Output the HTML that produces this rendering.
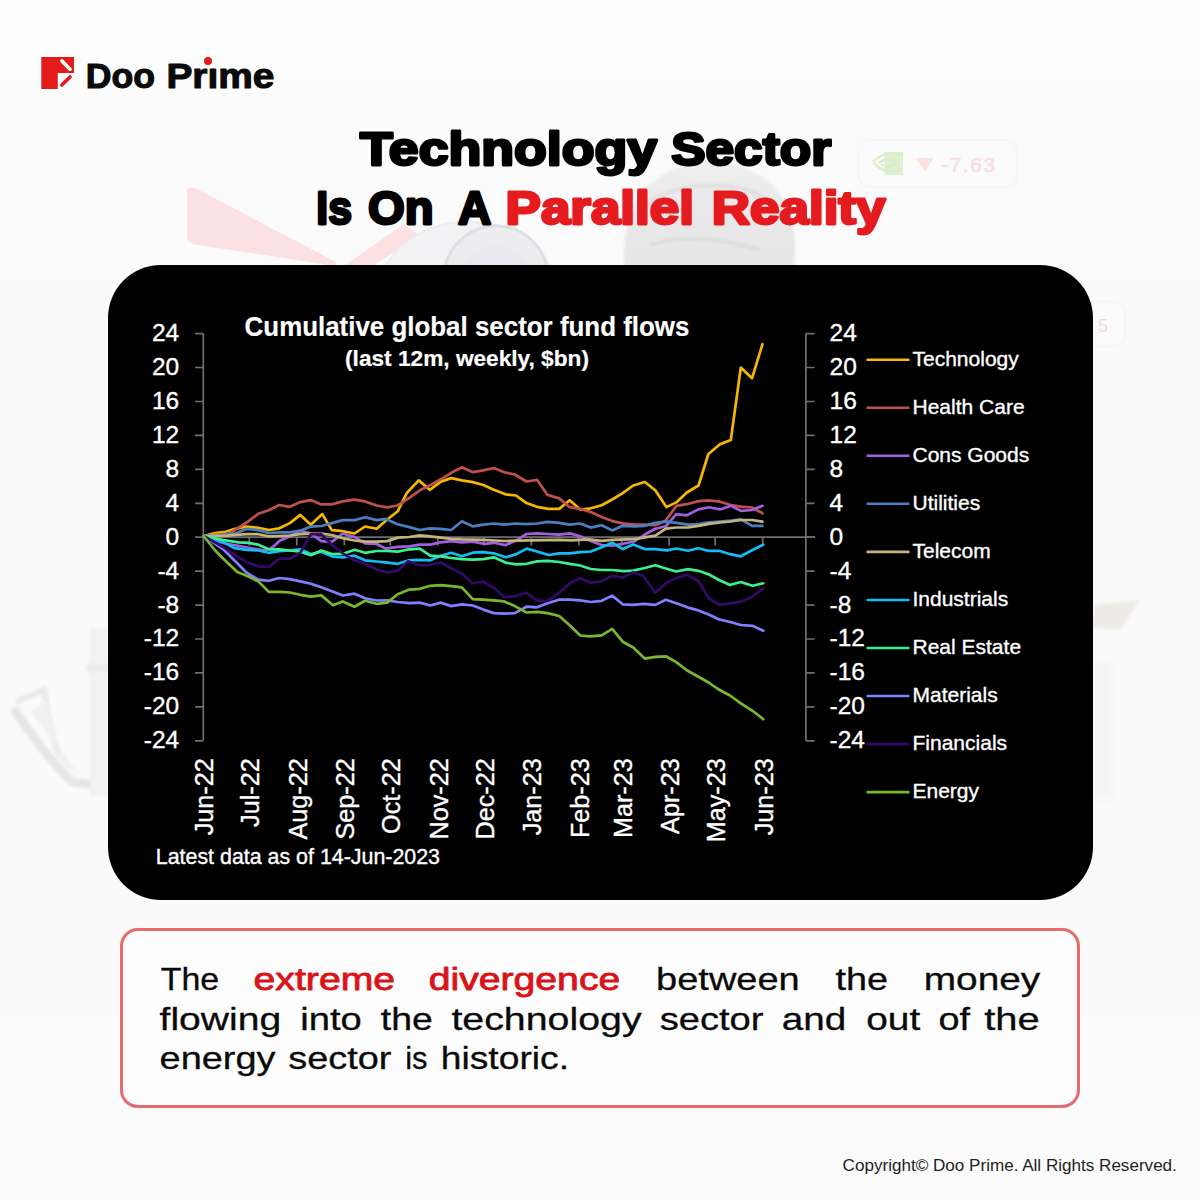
<!DOCTYPE html>
<html><head><meta charset="utf-8">
<style>
*{margin:0;padding:0;box-sizing:border-box}
html,body{width:1200px;height:1200px;overflow:hidden;background:linear-gradient(180deg,#fefefe 0px,#fbfbfb 140px,#fafafa 600px,#fbfbfb 1200px)}
body{position:relative;font-family:"Liberation Sans",sans-serif}
.abs{position:absolute}
#box{left:107.5px;top:265px;width:985px;height:635px;background:#000;border-radius:53px}
#tbox{left:120px;top:928px;width:960px;height:180px;border:3.5px solid #e66a6e;border-radius:18px;background:#fdfdfd}
.ct{font-family:"Liberation Sans",sans-serif;font-size:21px;fill:#fff;stroke:#fff;stroke-width:0.35px}
.ay{font-size:24.5px}
.ax{font-size:25.2px}
.ctb{font-family:"Liberation Sans",sans-serif;font-weight:700;fill:#fff;stroke:#fff;stroke-width:0.2px}
</style></head><body>
<!-- background decor -->
<svg class="abs" style="left:0;top:0" width="1200" height="1200">
  <defs>
    <filter id="bl" x="-20%" y="-20%" width="140%" height="140%"><feGaussianBlur stdDeviation="3"/></filter>
    <linearGradient id="head" x1="0" y1="0" x2="0" y2="1">
      <stop offset="0" stop-color="#efefef"/><stop offset="0.4" stop-color="#e9e9e9"/><stop offset="1" stop-color="#e6e6e6"/>
    </linearGradient>
    <filter id="bl2" x="-20%" y="-20%" width="140%" height="140%"><feGaussianBlur stdDeviation="1.5"/></filter>
  </defs>
  <!-- pink wedge -->
  <path d="M187 189 L193 187 L336 262 L336 266 L192 244 L187 240 Z" fill="#fbe1e1"/>
  <path d="M344 266 L404 224 L420 236 L372 266 Z" fill="#fbe1e1"/>
  <!-- lens -->
  <ellipse cx="468" cy="292" rx="88" ry="70" fill="#f2f2f5" stroke="#ececf0" stroke-width="2"/>
  <circle cx="496" cy="278" r="52" fill="#ededf0" stroke="#dedee3" stroke-width="3"/>
  <circle cx="496" cy="284" r="38" fill="#eaeaee"/>
  <!-- head -->
  <path d="M624 268 C622 225 634 178 690 163 C740 154 784 180 792 222 C796 240 795 255 794 268 Z" fill="url(#head)" filter="url(#bl2)"/>
  <path d="M640 210 C660 190 700 180 740 188 C760 192 775 205 782 220" fill="none" stroke="#dcdcdc" stroke-width="3" filter="url(#bl2)"/>
  <path d="M650 245 C680 235 720 238 760 250" fill="none" stroke="#d9d9d9" stroke-width="3" filter="url(#bl2)"/>
  <!-- card -->
  <rect x="858" y="140" width="159" height="47" rx="12" fill="#fbfbfb" stroke="#f3f3f3"/>
  <rect x="884.5" y="152" width="18.5" height="23" fill="#dff0d0"/>
  <path d="M873 162 C880 154 892 151 903 155 M874 163 C882 172 893 174 900 169 M879 163 C885 158 893 158 897 162 C893 167 886 168 881 164" fill="none" stroke="#d8ecc6" stroke-width="2.2"/>
  <path d="M916 158 L934 158 L925 171 Z" fill="#fae2e2"/>
  <text x="941" y="171.5" font-family="Liberation Sans, sans-serif" font-size="21" letter-spacing="1.6" fill="#f8e0e0" stroke="#f8e0e0" stroke-width="0.7">-7.63</text>
  <rect x="1080" y="302" width="45" height="44" rx="10" fill="#fbfbfb" stroke="#f4f4f4"/>
  <text x="1098" y="332" font-family="Liberation Sans, sans-serif" font-size="18" fill="#f6dada">5</text>
  <!-- bills -->
  <path d="M14 708 C30 735 55 765 72 782 L104 786" fill="none" stroke="#e6e6e6" stroke-width="9" stroke-linejoin="round" filter="url(#bl2)"/>
  <path d="M16 702 L44 690 C48 715 52 740 60 758" fill="none" stroke="#e9e9e9" stroke-width="6" filter="url(#bl2)"/>
  <path d="M30 712 L46 700 L62 765 L80 775 Z" fill="#f1f1f1" filter="url(#bl2)"/>
  <rect x="90" y="628" width="18" height="168" fill="#f2f2f2" filter="url(#bl2)"/><rect x="86" y="664" width="22" height="8" fill="#ececec" filter="url(#bl2)"/>
  <path d="M1095 605 L1140 600 L1120 630 L1092 628 Z" fill="#eeebe5" filter="url(#bl2)"/>
  <rect x="1093" y="660" width="20" height="140" fill="#f5f5f5" filter="url(#bl)"/>
</svg>
<!-- logo -->
<svg class="abs" style="left:0;top:0" width="300" height="110">
  <path d="M41.3 57 H74 V72.9 H57.8 V88.9 H41.3 Z" fill="#e31b1b"/>
  <line x1="61.9" y1="60.9" x2="70" y2="69.2" stroke="#fff" stroke-width="3.6" stroke-linecap="round"/>
  <line x1="70" y1="77" x2="61.8" y2="85" stroke="#e31b1b" stroke-width="3.6" stroke-linecap="round"/>
</svg>
<div class="abs" style="left:203.5px;top:57px;width:8px;height:8px;border-radius:50%;background:#e31b1b"></div>

<!-- chart box -->
<div id="box" class="abs"></div>

<!-- CHART START -->
<svg class="abs" style="left:0;top:0" width="1200" height="1200" viewBox="0 0 1200 1200">
<g stroke="#6e6e6e" stroke-width="1.7" fill="none">
<path d="M203.3 333.6V740.8"/>
<path d="M805.9 333.6V740.8"/>
<path d="M203.3 537.2H815"/>
<path d="M195 740.8H203.3M195 706.9H203.3M195 672.9H203.3M195 639.0H203.3M195 605.1H203.3M195 571.1H203.3M195 537.2H203.3M195 503.3H203.3M195 469.3H203.3M195 435.4H203.3M195 401.5H203.3M195 367.5H203.3M195 333.6H203.3"/>
<path d="M805.9 740.8H814.6M805.9 706.9H814.6M805.9 672.9H814.6M805.9 639.0H814.6M805.9 605.1H814.6M805.9 571.1H814.6M805.9 537.2H814.6M805.9 503.3H814.6M805.9 469.3H814.6M805.9 435.4H814.6M805.9 401.5H814.6M805.9 367.5H814.6M805.9 333.6H814.6"/>
<path d="M249.3 537.2V545.5M296.8 537.2V545.5M344.3 537.2V545.5M390.3 537.2V545.5M437.8 537.2V545.5M483.8 537.2V545.5M531.3 537.2V545.5M578.8 537.2V545.5M621.7 537.2V545.5M669.2 537.2V545.5M715.2 537.2V545.5M762.7 537.2V545.5"/>
</g>
<polyline points="203.5,536.0 215.2,533.0 225.7,531.8 235.0,528.9 246.7,526.6 258.3,527.8 268.8,530.0 279.3,528.3 289.8,523.1 300.3,514.9 310.8,524.8 322.3,514.1 331.8,530.1 342.8,531.2 354.5,533.5 365.0,526.5 376.7,528.8 387.2,519.5 397.7,511.3 407.0,492.7 418.7,480.4 429.8,489.8 440.8,481.6 451.3,478.1 461.8,480.4 472.8,482.1 483.3,485.0 493.8,489.7 505.5,494.3 516.0,495.5 526.5,503.1 538.2,507.2 548.7,508.9 559.2,508.9 569.7,500.2 580.2,509.5 590.7,508.3 601.7,505.3 612.2,499.5 622.7,493.1 633.2,485.5 644.8,482.0 655.3,490.2 666.4,507.1 676.3,502.4 686.8,492.5 698.5,485.5 708.4,454.0 720.0,444.2 730.8,440.0 740.8,367.5 752.0,378.3 762.5,344.2" fill="none" stroke="#f5b700" stroke-width="2.7" stroke-linejoin="round" stroke-linecap="round"/>
<polyline points="203.5,536.0 229.2,533.6 246.7,522.5 258.3,513.8 268.8,510.3 279.3,505.0 289.8,506.8 300.3,502.1 310.8,500.1 321.3,504.4 331.8,504.4 342.8,501.4 354.5,499.7 365.0,501.4 376.7,505.5 387.2,507.3 397.7,505.5 409.3,497.9 419.8,490.3 430.3,485.1 440.8,479.3 451.3,472.8 462.0,467.2 472.8,472.2 483.3,470.4 493.8,468.1 504.3,472.2 514.8,474.5 526.5,481.5 537.0,479.8 547.5,494.9 559.2,498.4 569.7,507.2 580.2,508.9 590.7,512.0 601.7,517.0 612.2,521.1 622.7,523.4 634.3,524.6 644.8,524.6 655.3,525.2 665.8,520.5 676.3,505.9 686.8,504.2 698.5,501.1 709.0,500.3 720.0,501.7 730.8,505.0 740.8,506.7 752.0,507.5 762.5,513.3" fill="none" stroke="#c0504d" stroke-width="2.7" stroke-linejoin="round" stroke-linecap="round"/>
<polyline points="203.5,536.0 223.0,543.0 236.7,545.5 250.0,548.0 262.0,550.0 268.8,549.5 273.3,546.7 280.0,540.5 289.8,536.5 300.3,530.7 310.8,533.5 321.3,541.2 331.8,541.8 342.8,533.5 354.5,537.0 365.0,543.4 376.7,544.0 386.0,548.7 397.7,546.9 409.3,546.3 419.8,544.6 430.3,544.6 440.8,542.3 451.3,541.1 461.8,542.3 472.8,541.6 484.5,543.9 493.8,542.8 505.5,545.1 517.2,539.8 526.5,534.0 537.0,533.4 547.5,534.0 559.2,534.6 569.7,533.4 580.2,536.3 590.7,541.0 601.7,545.0 612.2,545.6 622.7,543.8 634.3,541.5 644.8,534.5 655.3,528.7 665.8,526.3 676.3,514.1 686.8,515.3 698.5,509.4 709.0,507.3 720.0,509.5 730.8,505.8 740.8,510.8 752.0,510.0 762.5,505.8" fill="none" stroke="#a25ee0" stroke-width="2.7" stroke-linejoin="round" stroke-linecap="round"/>
<polyline points="203.5,536.0 220.0,535.0 235.0,533.6 246.7,528.9 258.3,530.1 268.8,533.0 279.3,532.4 289.8,532.4 300.3,530.7 310.8,526.6 321.3,526.0 331.8,523.1 342.8,520.1 354.5,520.1 365.0,517.2 376.7,520.1 386.0,518.9 397.7,524.2 409.3,527.1 419.8,530.0 430.3,528.3 440.8,528.8 451.3,530.0 461.8,521.3 472.8,526.4 483.3,524.7 493.8,523.5 504.3,524.7 514.8,523.5 526.5,524.1 537.0,523.5 547.5,521.8 559.2,522.9 569.7,524.7 580.2,523.5 590.7,527.6 601.7,525.2 612.2,530.4 622.7,525.8 634.3,526.3 644.8,525.8 655.3,522.8 667.0,521.7 676.3,522.8 688.0,524.6 698.5,524.0 709.0,522.3 720.0,521.5 730.8,520.5 740.8,519.3 752.0,525.8 762.5,525.8" fill="none" stroke="#4a7fc1" stroke-width="2.7" stroke-linejoin="round" stroke-linecap="round"/>
<polyline points="203.5,536.0 226.7,535.7 246.7,534.2 258.3,534.2 268.8,536.3 279.3,536.0 289.8,535.5 300.3,534.2 310.8,533.6 321.3,533.6 331.8,535.0 342.8,538.2 354.5,540.5 365.0,541.7 376.7,541.7 387.2,541.1 397.7,537.6 409.3,537.0 419.8,535.3 430.3,536.4 440.8,537.6 451.3,538.8 461.8,539.3 483.3,539.8 504.3,541.0 530.0,540.4 559.2,539.8 570.8,540.4 588.3,539.3 601.7,540.9 612.2,539.8 634.3,539.2 644.8,537.4 655.3,535.7 665.8,528.7 676.3,527.5 688.0,527.3 698.5,525.8 709.0,523.8 720.0,522.5 730.8,521.5 740.8,520.0 752.0,520.0 762.5,521.7" fill="none" stroke="#c4b47c" stroke-width="2.7" stroke-linejoin="round" stroke-linecap="round"/>
<polyline points="203.5,536.0 223.3,542.3 235.0,548.2 246.7,549.9 258.3,550.5 268.8,552.8 279.3,551.1 289.8,550.5 300.3,549.3 310.8,554.0 321.3,551.7 331.8,556.3 342.8,557.4 354.5,555.7 365.0,560.3 376.7,561.5 387.2,562.7 397.7,563.8 409.3,560.3 419.8,559.8 430.3,560.3 440.8,555.7 451.3,552.8 461.8,556.3 472.8,552.7 483.3,552.1 493.8,553.3 505.5,557.3 516.0,554.4 526.5,548.6 537.0,551.5 548.7,555.0 559.2,553.3 569.7,553.3 580.2,552.1 590.7,551.5 601.7,547.3 612.2,542.7 622.7,549.1 633.2,544.4 644.8,549.1 655.3,549.1 667.0,550.3 676.3,548.5 688.0,550.8 698.3,548.3 708.3,550.8 719.2,550.8 730.0,554.2 740.8,556.3 752.5,550.0 763.3,544.7" fill="none" stroke="#12bdf5" stroke-width="2.7" stroke-linejoin="round" stroke-linecap="round"/>
<polyline points="203.5,536.0 223.3,540.0 238.5,542.3 249.0,542.9 258.3,544.7 268.8,549.3 279.3,549.3 289.8,550.5 300.3,551.7 310.8,555.2 321.3,550.5 331.8,554.0 342.8,553.9 354.5,549.8 365.0,552.8 376.7,551.0 387.2,551.0 397.7,551.6 409.3,549.3 419.8,548.7 430.3,555.7 440.8,556.3 451.3,558.0 461.8,559.2 472.8,559.7 483.3,559.1 493.8,557.3 505.5,562.6 516.0,564.3 526.5,563.8 537.0,561.4 547.5,560.8 559.2,562.0 569.7,563.8 580.2,565.5 590.7,569.0 601.7,570.0 612.2,570.0 623.8,571.2 633.2,570.6 643.7,568.2 655.3,565.3 665.8,568.5 676.3,571.5 688.0,569.1 698.5,570.8 709.0,574.5 719.5,580.2 730.0,585.0 740.8,582.0 752.5,585.8 763.3,583.3" fill="none" stroke="#3cf08e" stroke-width="2.7" stroke-linejoin="round" stroke-linecap="round"/>
<polyline points="203.5,536.0 223.3,549.3 235.0,561.0 246.7,572.7 258.3,579.7 268.8,580.8 279.3,578.0 289.8,579.1 300.3,581.4 310.8,583.8 321.3,587.3 331.8,591.3 342.8,595.5 354.5,593.7 365.0,598.2 376.7,600.5 387.2,600.3 397.7,602.0 409.3,603.2 419.8,602.6 430.3,605.5 440.8,602.6 451.3,606.1 461.8,604.3 472.8,605.5 483.3,609.6 493.8,613.1 504.3,613.7 514.8,613.1 526.5,606.7 537.0,607.3 547.5,603.2 559.2,599.7 569.7,599.7 580.2,600.3 590.7,602.0 601.7,600.8 612.2,595.6 622.7,604.3 633.2,604.9 643.7,603.8 655.3,604.9 665.8,599.7 676.3,603.2 688.0,607.6 698.4,610.4 708.7,614.5 719.3,619.5 730.0,622.0 740.8,625.0 752.5,625.8 763.3,630.8" fill="none" stroke="#8080ff" stroke-width="2.7" stroke-linejoin="round" stroke-linecap="round"/>
<polyline points="203.5,536.0 223.3,547.0 235.0,555.2 246.7,562.2 258.3,566.3 268.8,566.8 279.3,558.7 289.8,558.7 300.3,552.8 310.8,534.2 321.3,534.2 331.8,544.7 342.8,553.3 354.5,560.3 365.0,563.7 376.7,569.5 387.2,572.5 397.7,570.4 408.2,561.3 419.8,565.5 430.3,564.8 440.8,562.5 451.3,568.3 461.8,573.6 472.8,583.5 483.3,581.7 493.8,587.5 504.3,597.3 514.8,596.2 526.5,592.7 537.0,600.8 547.5,600.8 559.2,592.7 569.7,583.3 580.2,578.2 590.7,582.8 601.7,581.0 612.2,575.8 622.7,577.5 633.2,572.3 643.7,576.3 655.3,592.7 665.8,583.3 676.3,578.1 686.8,574.6 698.5,581.0 709.0,598.5 719.5,604.9 730.0,603.3 740.8,601.7 752.5,596.7 763.3,588.3" fill="none" stroke="#35086c" stroke-width="2.7" stroke-linejoin="round" stroke-linecap="round"/>
<polyline points="203.5,536.0 215.2,550.5 225.7,561.0 237.3,572.1 247.8,576.2 258.3,581.4 268.8,591.9 279.3,591.9 289.8,592.5 300.3,594.8 310.8,596.6 321.3,595.4 333.0,605.3 342.8,601.4 354.5,606.7 365.0,600.8 376.7,603.8 387.2,602.6 397.7,594.3 409.3,589.6 419.8,588.8 430.3,585.8 440.8,585.2 451.3,586.2 461.8,587.4 472.8,599.1 483.3,599.7 493.8,600.3 504.3,601.4 514.8,606.1 526.5,612.5 537.0,611.9 547.5,613.1 559.2,616.0 569.7,625.3 580.2,635.5 590.0,636.4 601.7,635.3 612.2,628.8 622.7,641.7 633.2,647.5 644.8,658.6 655.3,656.8 665.8,656.3 676.3,662.1 686.8,670.3 698.4,676.7 708.6,682.5 719.3,689.8 730.0,695.5 740.8,703.3 752.5,710.8 763.3,719.2" fill="none" stroke="#78b82e" stroke-width="2.7" stroke-linejoin="round" stroke-linecap="round"/>
<line x1="866.5" y1="359.7" x2="909.5" y2="359.7" stroke="#f5b700" stroke-width="2.6"/>
<text x="912.5" y="366.0" class="ct">Technology</text>
<line x1="866.5" y1="407.8" x2="909.5" y2="407.8" stroke="#c0504d" stroke-width="2.6"/>
<text x="912.5" y="414.1" class="ct">Health Care</text>
<line x1="866.5" y1="455.8" x2="909.5" y2="455.8" stroke="#a25ee0" stroke-width="2.6"/>
<text x="912.5" y="462.1" class="ct">Cons Goods</text>
<line x1="866.5" y1="503.8" x2="909.5" y2="503.8" stroke="#4a7fc1" stroke-width="2.6"/>
<text x="912.5" y="510.1" class="ct">Utilities</text>
<line x1="866.5" y1="551.9" x2="909.5" y2="551.9" stroke="#c4b47c" stroke-width="2.6"/>
<text x="912.5" y="558.2" class="ct">Telecom</text>
<line x1="866.5" y1="600.0" x2="909.5" y2="600.0" stroke="#12bdf5" stroke-width="2.6"/>
<text x="912.5" y="606.2" class="ct">Industrials</text>
<line x1="866.5" y1="648.0" x2="909.5" y2="648.0" stroke="#3cf08e" stroke-width="2.6"/>
<text x="912.5" y="654.3" class="ct">Real Estate</text>
<line x1="866.5" y1="696.0" x2="909.5" y2="696.0" stroke="#8080ff" stroke-width="2.6"/>
<text x="912.5" y="702.3" class="ct">Materials</text>
<line x1="866.5" y1="744.1" x2="909.5" y2="744.1" stroke="#35086c" stroke-width="2.6"/>
<text x="912.5" y="750.4" class="ct">Financials</text>
<line x1="866.5" y1="792.1" x2="909.5" y2="792.1" stroke="#78b82e" stroke-width="2.6"/>
<text x="912.5" y="798.4" class="ct">Energy</text>
<text x="179.2" y="341.0" class="ct ay" text-anchor="end">24</text>
<text x="829.5" y="341.0" class="ct ay">24</text>
<text x="179.2" y="374.9" class="ct ay" text-anchor="end">20</text>
<text x="829.5" y="374.9" class="ct ay">20</text>
<text x="179.2" y="408.9" class="ct ay" text-anchor="end">16</text>
<text x="829.5" y="408.9" class="ct ay">16</text>
<text x="179.2" y="442.8" class="ct ay" text-anchor="end">12</text>
<text x="829.5" y="442.8" class="ct ay">12</text>
<text x="179.2" y="476.7" class="ct ay" text-anchor="end">8</text>
<text x="829.5" y="476.7" class="ct ay">8</text>
<text x="179.2" y="510.7" class="ct ay" text-anchor="end">4</text>
<text x="829.5" y="510.7" class="ct ay">4</text>
<text x="179.2" y="544.6" class="ct ay" text-anchor="end">0</text>
<text x="829.5" y="544.6" class="ct ay">0</text>
<text x="179.2" y="578.5" class="ct ay" text-anchor="end">-4</text>
<text x="829.5" y="578.5" class="ct ay">-4</text>
<text x="179.2" y="612.5" class="ct ay" text-anchor="end">-8</text>
<text x="829.5" y="612.5" class="ct ay">-8</text>
<text x="179.2" y="646.4" class="ct ay" text-anchor="end">-12</text>
<text x="829.5" y="646.4" class="ct ay">-12</text>
<text x="179.2" y="680.3" class="ct ay" text-anchor="end">-16</text>
<text x="829.5" y="680.3" class="ct ay">-16</text>
<text x="179.2" y="714.3" class="ct ay" text-anchor="end">-20</text>
<text x="829.5" y="714.3" class="ct ay">-20</text>
<text x="179.2" y="748.2" class="ct ay" text-anchor="end">-24</text>
<text x="829.5" y="748.2" class="ct ay">-24</text>
<text class="ct ax" text-anchor="end" transform="translate(213.4 758.3) rotate(-90)">Jun-22</text>
<text class="ct ax" text-anchor="end" transform="translate(259.4 758.3) rotate(-90)">Jul-22</text>
<text class="ct ax" text-anchor="end" transform="translate(306.9 758.3) rotate(-90)">Aug-22</text>
<text class="ct ax" text-anchor="end" transform="translate(354.4 758.3) rotate(-90)">Sep-22</text>
<text class="ct ax" text-anchor="end" transform="translate(400.4 758.3) rotate(-90)">Oct-22</text>
<text class="ct ax" text-anchor="end" transform="translate(447.9 758.3) rotate(-90)">Nov-22</text>
<text class="ct ax" text-anchor="end" transform="translate(493.9 758.3) rotate(-90)">Dec-22</text>
<text class="ct ax" text-anchor="end" transform="translate(541.4 758.3) rotate(-90)">Jan-23</text>
<text class="ct ax" text-anchor="end" transform="translate(588.9 758.3) rotate(-90)">Feb-23</text>
<text class="ct ax" text-anchor="end" transform="translate(631.8 758.3) rotate(-90)">Mar-23</text>
<text class="ct ax" text-anchor="end" transform="translate(679.3 758.3) rotate(-90)">Apr-23</text>
<text class="ct ax" text-anchor="end" transform="translate(725.3 758.3) rotate(-90)">May-23</text>
<text class="ct ax" text-anchor="end" transform="translate(772.8 758.3) rotate(-90)">Jun-23</text>
<text class="ctb" text-anchor="middle" transform="translate(467 335.6) scale(0.96 1)" style="font-size:27px">Cumulative global sector fund flows</text>
<text class="ctb" text-anchor="middle" transform="translate(467 365.6) scale(1.03 1)" style="font-size:22px">(last 12m, weekly, $bn)</text>
<text class="ct" x="155.8" y="864" style="font-size:21.4px">Latest data as of 14-Jun-2023</text>
</svg>
<!-- CHART END -->
<!-- text box -->
<div id="tbox" class="abs"></div>

<!-- TEXT START -->
<svg class="abs" style="left:0;top:0" width="1200" height="1200" font-family="Liberation Sans, sans-serif">
<text transform="translate(85.84 88.3) scale(0.9902 1)" font-size="36" fill="#0a0a0a" font-weight="700" stroke="#0a0a0a" stroke-width="1.1" stroke-linejoin="round">Doo</text>
<text transform="translate(166.39 88.3) scale(1.0801 1)" font-size="36" fill="#0a0a0a" font-weight="700" stroke="#0a0a0a" stroke-width="1.1" stroke-linejoin="round">Prıme</text>
<text transform="translate(360.00 165.4) scale(1.1424 1)" font-size="47" fill="#000" font-weight="700" stroke="#000" stroke-width="2.8" stroke-linejoin="round">Technology</text>
<text transform="translate(671.13 165.4) scale(1.0949 1)" font-size="47" fill="#000" font-weight="700" stroke="#000" stroke-width="2.8" stroke-linejoin="round">Sector</text>
<text transform="translate(316.28 224.4) scale(0.9108 1)" font-size="47" fill="#000" font-weight="700" stroke="#000" stroke-width="2.8" stroke-linejoin="round">Is</text>
<text transform="translate(368.11 224.4) scale(1.0037 1)" font-size="47" fill="#000" font-weight="700" stroke="#000" stroke-width="2.8" stroke-linejoin="round">On</text>
<text transform="translate(458.07 224.4) scale(0.9783 1)" font-size="47" fill="#000" font-weight="700" stroke="#000" stroke-width="2.8" stroke-linejoin="round">A</text>
<text transform="translate(505.58 224.4) scale(1.1267 1)" font-size="47" fill="#e41b1f" font-weight="700" stroke="#e41b1f" stroke-width="2.8" stroke-linejoin="round">Parallel</text>
<text transform="translate(711.78 224.4) scale(1.1270 1)" font-size="47" fill="#e41b1f" font-weight="700" stroke="#e41b1f" stroke-width="2.8" stroke-linejoin="round">Reality</text>
<text transform="translate(160.66 989.5) scale(1.0603 1)" font-size="32" fill="#0a0a0a" stroke="#0a0a0a" stroke-width="0.3" stroke-linejoin="round">The</text>
<text transform="translate(253.52 989.5) scale(1.2256 1)" font-size="32" fill="#d8141a" stroke="#d8141a" stroke-width="0.85" stroke-linejoin="round">extreme</text>
<text transform="translate(428.72 989.5) scale(1.2234 1)" font-size="32" fill="#d8141a" stroke="#d8141a" stroke-width="0.85" stroke-linejoin="round">divergence</text>
<text transform="translate(656.08 989.5) scale(1.1880 1)" font-size="32" fill="#0a0a0a" stroke="#0a0a0a" stroke-width="0.3" stroke-linejoin="round">between</text>
<text transform="translate(835.48 989.5) scale(1.1808 1)" font-size="32" fill="#0a0a0a" stroke="#0a0a0a" stroke-width="0.3" stroke-linejoin="round">the</text>
<text transform="translate(923.68 989.5) scale(1.2139 1)" font-size="32" fill="#0a0a0a" stroke="#0a0a0a" stroke-width="0.3" stroke-linejoin="round">money</text>
<text transform="translate(159.58 1029.5) scale(1.2204 1)" font-size="32" fill="#0a0a0a" stroke="#0a0a0a" stroke-width="0.3" stroke-linejoin="round">flowing</text>
<text transform="translate(300.18 1029.5) scale(1.1931 1)" font-size="32" fill="#0a0a0a" stroke="#0a0a0a" stroke-width="0.3" stroke-linejoin="round">into</text>
<text transform="translate(380.78 1029.5) scale(1.1696 1)" font-size="32" fill="#0a0a0a" stroke="#0a0a0a" stroke-width="0.3" stroke-linejoin="round">the</text>
<text transform="translate(451.38 1029.5) scale(1.2293 1)" font-size="32" fill="#0a0a0a" stroke="#0a0a0a" stroke-width="0.3" stroke-linejoin="round">technology</text>
<text transform="translate(659.78 1029.5) scale(1.1902 1)" font-size="32" fill="#0a0a0a" stroke="#0a0a0a" stroke-width="0.3" stroke-linejoin="round">sector</text>
<text transform="translate(781.78 1029.5) scale(1.2100 1)" font-size="32" fill="#0a0a0a" stroke="#0a0a0a" stroke-width="0.3" stroke-linejoin="round">and</text>
<text transform="translate(866.18 1029.5) scale(1.2143 1)" font-size="32" fill="#0a0a0a" stroke="#0a0a0a" stroke-width="0.3" stroke-linejoin="round">out</text>
<text transform="translate(938.38 1029.5) scale(1.1830 1)" font-size="32" fill="#0a0a0a" stroke="#0a0a0a" stroke-width="0.3" stroke-linejoin="round">of</text>
<text transform="translate(984.19 1029.5) scale(1.2478 1)" font-size="32" fill="#0a0a0a" stroke="#0a0a0a" stroke-width="0.3" stroke-linejoin="round">the</text>
<text transform="translate(159.58 1068.7) scale(1.1851 1)" font-size="32" fill="#0a0a0a" stroke="#0a0a0a" stroke-width="0.3" stroke-linejoin="round">energy</text>
<text transform="translate(288.18 1068.7) scale(1.1856 1)" font-size="32" fill="#0a0a0a" stroke="#0a0a0a" stroke-width="0.3" stroke-linejoin="round">sector</text>
<text transform="translate(405.14 1068.7) scale(0.9657 1)" font-size="32" fill="#0a0a0a" stroke="#0a0a0a" stroke-width="0.3" stroke-linejoin="round">is</text>
<text transform="translate(440.77 1068.7) scale(1.1633 1)" font-size="32" fill="#0a0a0a" stroke="#0a0a0a" stroke-width="0.3" stroke-linejoin="round">historic.</text>
<text transform="translate(842.60 1171.4) scale(1.0050 1)" font-size="17" fill="#1e1e1e">Copyright© Doo Prime. All Rights Reserved.</text>
</svg>
<!-- TEXT END -->
</body></html>
